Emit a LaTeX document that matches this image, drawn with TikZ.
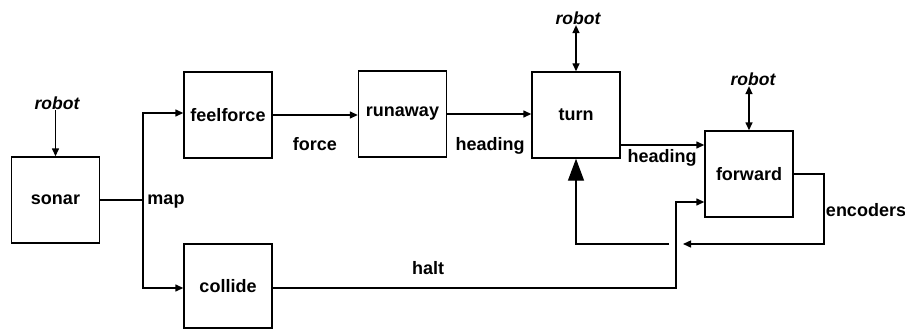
\documentclass[tikz,border=0pt]{standalone}
\usepackage{fontspec}
\setmainfont{Liberation Sans}
\usetikzlibrary{arrows.meta}
\begin{document}
\begin{tikzpicture}[x=1pt,y=-1pt,line width=1.4pt,
  >={Triangle[length=8pt,width=7pt]},
  lbl/.style={font=\bfseries\fontsize{18}{21}\selectfont,inner sep=0pt},
  rob/.style={font=\bfseries\itshape\fontsize{17.5}{20}\selectfont,inner sep=0pt},
  blk/.style={draw,line width=1.4pt,minimum width=88pt,minimum height=86pt,inner sep=0pt,font=\bfseries\fontsize{18}{21}\selectfont},
  bigtip/.style={-{Triangle[length=22pt,width=16pt]}}]
\useasboundingbox (0,0) rectangle (905,329);
% blocks
\node[blk] (sonar) at (55.5,200) {sonar};
\node[blk] (feelforce) at (228,115) {feelforce};
\node[blk,minimum height=84pt] (collide) at (228,286) {collide};
\node[blk] (runaway) at (402.5,114) {runaway};
\node[blk] (turn) at (576,115) {turn};
\node[blk] (forward) at (749,174) {forward};
% robot labels
\node[rob] (r1) at (57,103) {robot};
\node[rob] (r2) at (578,18) {robot};
\node[rob] (r3) at (753,79) {robot};
% labels
\node[lbl] (map) at (166,202) {map};
\node[lbl] (force) at (315,144) {force};
\node[lbl] (head1) at (490,146) {heading};
\node[lbl] (head2) at (662,158) {heading};
\node[lbl] (halt) at (428,268) {halt};
\node[lbl] (enc) at (866,210) {encoders};
% coordinates
\coordinate (j) at (143,200);
\coordinate (hc) at (676,202);
\coordinate (e1) at (824,174);
\coordinate (e2) at (824,244);
\coordinate (g1) at (683,244);
\coordinate (g2) at (669,244);
% connectors
\draw[->] (sonar.north |- r1.south) -- (sonar.north);
\draw[<->] (turn.north |- r2.south) -- (turn.north);
\draw[<->] (forward.north |- r3.south) -- (forward.north);
\draw (sonar.east) -- (j);
\draw[->] (j) |- ([yshift=2pt]feelforce.west);
\draw[->] (j) |- ([yshift=-2pt]collide.west);
\draw[->] (feelforce.east) -- (runaway.west |- feelforce.east);
\draw[->] (runaway.east) -- (turn.west |- runaway.east);
\draw[->] ([yshift=-30pt]turn.east) -- ([yshift=-30pt]turn.east -| forward.west);
\draw[->] ([yshift=-2pt]collide.east) -| (hc) -- (hc -| forward.west);
\draw[->] (forward.east) -- (e1) -- (e2) -- (g1);
\draw[bigtip] (g2) -- (g2 -| turn.south) -- (turn.south);
\end{tikzpicture}
\end{document}
